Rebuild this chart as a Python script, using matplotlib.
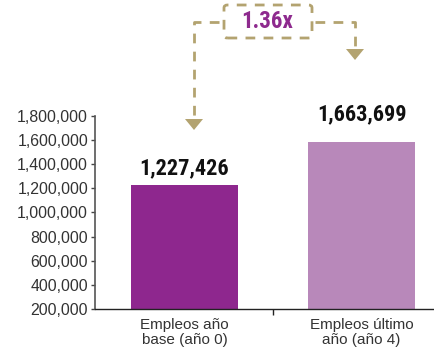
import matplotlib
matplotlib.use("Agg")
import matplotlib.pyplot as plt
from matplotlib.patches import FancyBboxPatch, Polygon
from matplotlib.lines import Line2D
from matplotlib.ticker import FuncFormatter

categories = ["Empleos año\nbase (año 0)", "Empleos último\naño (año 4)"]
values = [1227426, 1585000]
value_labels = ["1,227,426", "1,663,699"]
ratio_label = "1.36x"
yticks = [200000, 400000, 600000, 800000, 1000000, 1200000, 1400000, 1600000, 1800000]
colors = ["#8e278e", "#b888ba"]
tan = "#b3a370"

plt.rcParams["font.family"] = ["Liberation Sans", "DejaVu Sans"]

W, H = 435, 356
fig = plt.figure(figsize=(W / 100, H / 100), dpi=100)
ax = fig.add_axes([95 / W, 47 / H, 1 - 95 / W, (309 - 115.7) / H])

x = list(range(len(categories)))
ax.bar(x, [v - 200000 for v in values], bottom=200000, width=0.6, color=colors, zorder=2)
ax.set_ylim(200000, 1800000)
ax.set_xlim(-0.506, 1.415)
ax.set_yticks(yticks)
ax.yaxis.set_major_formatter(FuncFormatter(lambda v, p: f"{int(v):,}"))
ax.set_xticks([0.5])
ax.set_xticklabels([""])
ax.tick_params(axis="y", length=3, width=1, color="#444444", labelsize=11.4, labelcolor="#333333", pad=2)
ax.tick_params(axis="x", length=4, width=1, color="#222222")
for s in ["top", "right"]:
    ax.spines[s].set_visible(False)
ax.spines["left"].set_color("#555555")
ax.spines["left"].set_linewidth(1.2)
ax.spines["bottom"].set_color("#222222")
ax.spines["bottom"].set_linewidth(1)

for xi, lab in zip(x, categories):
    ax.text(xi, -0.045, lab, transform=ax.get_xaxis_transform(), ha="center", va="top",
            fontsize=11, color="#333333", linespacing=1.1)

bold_font = dict(family=["Roboto Condensed", "DejaVu Sans"], weight="bold")
ax.text(0, 1227426 + 140000, value_labels[0], ha="center", va="center", fontsize=16,
        color="#111111", **bold_font)
ax.text(1, 1585000 + 230000, value_labels[1], ha="center", va="center", fontsize=16,
        color="#111111", **bold_font)

# annotation in figure pixel coords
def fx(px):
    return px / W

def fy(py):
    return 1 - py / H

dash = dict(color=tan, linewidth=2.0, linestyle=(0, (3.5, 3)), solid_capstyle="butt")
yl = 22
# left path
fig.add_artist(Line2D([fx(219), fx(194), fx(194)], [fy(yl), fy(yl), fy(118)], transform=fig.transFigure, **dash))
fig.add_artist(Polygon([[fx(185), fy(119)], [fx(203), fy(119)], [fx(194), fy(130)]], closed=True,
                       transform=fig.transFigure, color=tan, lw=0))
# right path
fig.add_artist(Line2D([fx(315), fx(355), fx(355)], [fy(yl), fy(yl), fy(50)], transform=fig.transFigure, **dash))
fig.add_artist(Polygon([[fx(346), fy(49)], [fx(364), fy(49)], [fx(355), fy(60)]], closed=True,
                       transform=fig.transFigure, color=tan, lw=0))
# box
box = FancyBboxPatch((fx(224), fy(38)), fx(312) - fx(224), fy(5) - fy(38),
                     boxstyle="round,pad=0,rounding_size=0.008", transform=fig.transFigure,
                     fill=False, edgecolor=tan, linewidth=2.0, linestyle=(0, (3.5, 3)))
fig.add_artist(box)
fig.text(fx(267), fy(22), ratio_label, ha="center", va="center", fontsize=16.5, color="#8e2a8e",
         **bold_font)

fig.savefig("out.png", dpi=100)
